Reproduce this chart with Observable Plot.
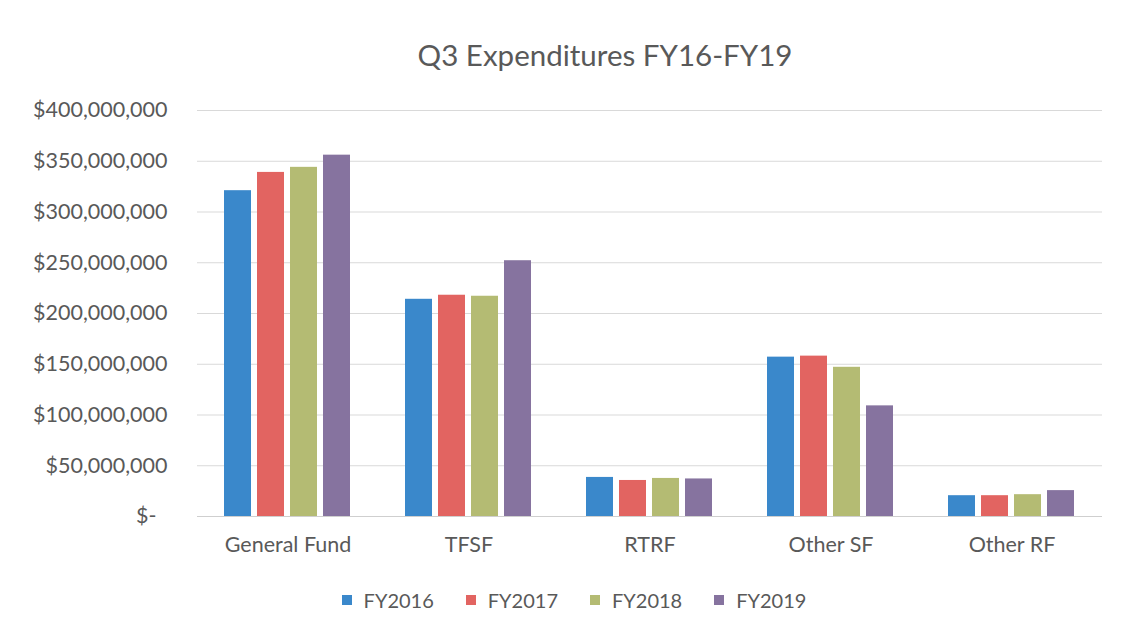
<!DOCTYPE html>
<html>
<head>
<meta charset="utf-8">
<script src="https://cdn.jsdelivr.net/npm/d3@7"></script>
<script src="https://cdn.jsdelivr.net/npm/@observablehq/plot@0.6"></script>
<style>
  html, body { margin: 0; padding: 0; background: #fff; }
  body { width: 1148px; height: 628px; position: relative; overflow: hidden; font-family: Lato, "Open Sans", sans-serif; color: #595959; }
  #title { position: absolute; top: 0; left: 0; width: 1210px; height: 85px; line-height: 110px; text-align: center; font-size: 29.5px; white-space: nowrap; }
  #chart { position: absolute; top: 85px; left: 0; }
  #legend { position: absolute; top: 588px; left: 0; width: 1148px; display: flex; justify-content: center; gap: 32px; font-size: 20px; }
  .item { display: flex; align-items: center; gap: 12px; }
  .sw { width: 10px; height: 10px; display: inline-block; }
</style>
</head>
<body>
<div id="title">Q3 Expenditures FY16-FY19</div>
<div id="chart"></div>
<div id="legend"></div>
<script>
const categories = ["General Fund", "TFSF", "RTRF", "Other SF", "Other RF"];
const years = ["FY2016", "FY2017", "FY2018", "FY2019"];
const fy2016 = [321e6, 214e6, 38.5e6, 157e6, 20.5e6];
const fy2017 = [339e6, 218e6, 35.5e6, 158e6, 20.5e6];
const fy2018 = [344e6, 217e6, 37.5e6, 147e6, 21.5e6];
const fy2019 = [356e6, 252e6, 37e6, 109e6, 25.5e6];
const yearColors = ["#3a88cb", "#e26461", "#b4bb73", "#86739f"];
const yTicks = [0, 50e6, 100e6, 150e6, 200e6, 250e6, 300e6, 350e6, 400e6];

const series = [fy2016, fy2017, fy2018, fy2019];
const rows = [];
categories.forEach((c, i) => years.forEach((y, j) => rows.push({category: c, year: y, value: series[j][i]})));

const fmt = d => d === 0 ? "$-\u00a0\u00a0" : "$" + d3.format(",")(d);

const chart = Plot.plot({
  width: 1148,
  height: 490,
  marginLeft: 221,
  marginRight: 69,
  marginTop: 25,
  marginBottom: 59,
  style: {fontFamily: "Lato, 'Open Sans', sans-serif", fontSize: "21.5px", color: "#595959", background: "white"},
  fx: {domain: categories, paddingInner: 0.285, paddingOuter: 0, label: null, axis: "bottom", tickSize: 0, tickPadding: 20},
  x: {domain: years, paddingInner: 0.18, paddingOuter: 0, axis: null},
  y: {domain: [0, 400e6], ticks: yTicks, tickFormat: fmt, tickSize: 0, tickPadding: 56, label: null},
  color: {domain: years, range: yearColors},
  marks: [
    Plot.ruleY(yTicks.slice(1), {stroke: "#d9d9d9", strokeWidth: 1.2, insetLeft: -26, insetRight: -26}),
    Plot.ruleY([0], {stroke: "#cfcfcf", strokeWidth: 1.2, insetLeft: -26, insetRight: -26}),
    Plot.barY(rows, {fx: "category", x: "year", y: "value", fill: "year"})
  ]
});
document.getElementById("chart").appendChild(chart);

const legend = document.getElementById("legend");
years.forEach((y, i) => {
  const it = document.createElement("div");
  it.className = "item";
  const sw = document.createElement("span");
  sw.className = "sw";
  sw.style.background = yearColors[i];
  const t = document.createElement("span");
  t.textContent = y;
  it.appendChild(sw); it.appendChild(t);
  legend.appendChild(it);
});
</script>
</body>
</html>
